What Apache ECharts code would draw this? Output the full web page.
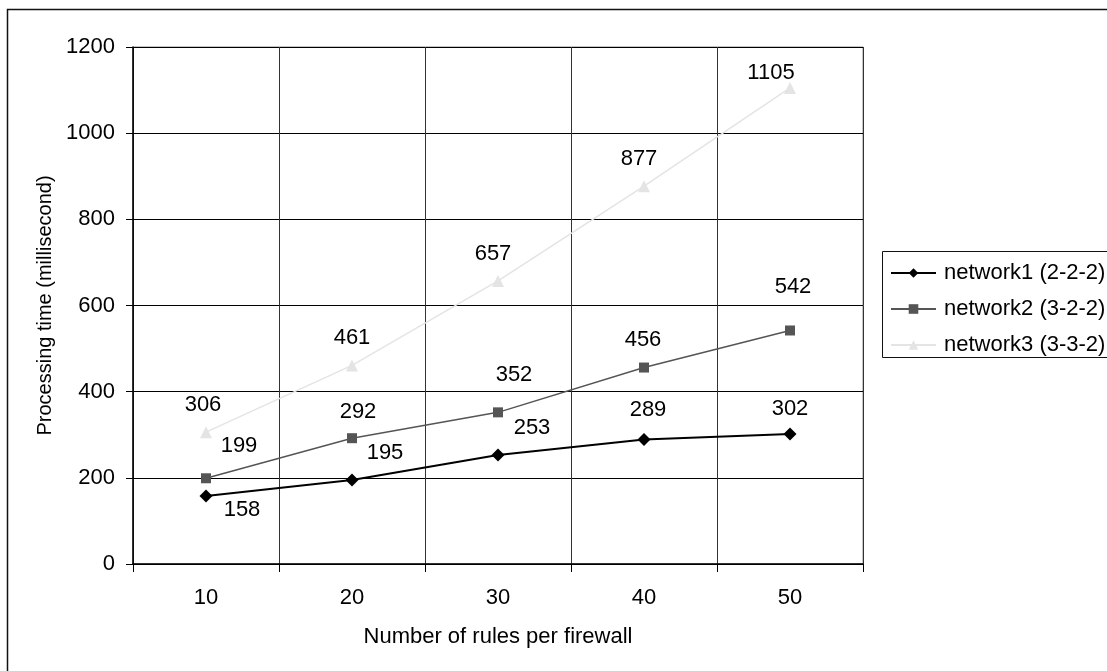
<!DOCTYPE html>
<html>
<head>
<meta charset="utf-8">
<script src="https://cdn.jsdelivr.net/npm/echarts@6/dist/echarts.min.js"></script>
<style>
  html, body { margin: 0; padding: 0; background: #fff; }
  #chart { width: 1107px; height: 671px; }
</style>
</head>
<body>
<div id="chart"></div>
<script>
// Rules per firewall (x categories)
const categories = ['10', '20', '30', '40', '50'];

// Processing time in milliseconds for each network topology
const network1 = [158, 195, 253, 289, 302];
const network2 = [199, 292, 352, 456, 542];
const network3 = [306, 461, 657, 877, 1105];

const seriesNames = ['network1 (2-2-2)', 'network2 (3-2-2)', 'network3 (3-3-2)'];

// Where each value label sits relative to its point (dx, dy in px)
const labelOffsets1 = [[36, 14], [33, -27], [34, -27], [4, -30], [0, -25]];
const labelOffsets2 = [[33, -32], [6, -26], [16, -37], [-1, -28], [3, -44]];
const labelOffsets3 = [[-3, -27], [0, -27], [-5, -27], [-5, -27], [-19, -15]];

const FONT = '"Liberation Sans", Arial, Helvetica, sans-serif';

function withLabels(values, offsets) {
  return values.map((v, i) => ({
    value: v,
    label: { offset: offsets[i] }
  }));
}

function lineSeries(name, values, offsets, color, symbol, size, width) {
  return {
    name: name,
    type: 'line',
    data: withLabels(values, offsets),
    symbol: symbol,
    symbolSize: size,
    showAllSymbol: true,
    lineStyle: { color: color, width: width },
    itemStyle: { color: color },
    label: {
      show: true,
      position: 'inside',
      align: 'center',
      verticalAlign: 'middle',
      color: '#000',
      fontSize: 22,
      fontFamily: FONT
    },
    emphasis: { disabled: true },
    animation: false,
    z: 3
  };
}

const chart = echarts.init(document.getElementById('chart'), null, { renderer: 'canvas' });

chart.setOption({
  backgroundColor: '#fff',
  animation: false,
  graphic: [
    // outer frame (top and left edges)
    { type: 'rect', shape: { x: 7.5, y: 9.5, width: 1200, height: 800 },
      style: { fill: null, stroke: '#111', lineWidth: 1.5 }, silent: true, z: 0 },
    // legend frame
    { type: 'rect', shape: { x: 882.5, y: 251.5, width: 300, height: 106 },
      style: { fill: '#fff', stroke: '#111', lineWidth: 1 }, silent: true, z: 1 }
  ],
  grid: {
    left: 133, top: 47, right: 244, bottom: 107,
    show: true, borderColor: '#8a8a8a', borderWidth: 1, backgroundColor: 'transparent'
  },
  legend: {
    orient: 'vertical',
    left: 890,
    top: 262,
    itemWidth: 45,
    itemHeight: 12,
    itemGap: 14,
    padding: 0,
    textStyle: { fontSize: 22, fontFamily: FONT, color: '#000', padding: [0, 0, 0, 3] },
    data: seriesNames,
    z: 5
  },
  xAxis: {
    type: 'category',
    data: categories,
    boundaryGap: true,
    name: 'Number of rules per firewall',
    nameLocation: 'middle',
    nameGap: 62,
    nameTextStyle: { fontSize: 22, fontFamily: FONT, color: '#000' },
    axisLine: { lineStyle: { color: '#000', width: 1.5 } },
    axisTick: { show: true, inside: false, length: 8, alignWithLabel: false, interval: 0,
      lineStyle: { color: '#000' } },
    axisLabel: { fontSize: 22, fontFamily: FONT, color: '#000', margin: 23, interval: 0 },
    splitLine: { show: true, interval: 0, lineStyle: { color: '#333', width: 1 } }
  },
  yAxis: {
    type: 'value',
    min: 0,
    max: 1200,
    interval: 200,
    name: 'Processing time (millisecond)',
    nameLocation: 'middle',
    nameGap: 78,
    nameRotate: 90,
    nameTextStyle: { fontSize: 20, fontFamily: FONT, color: '#000' },
    axisLine: { show: true, lineStyle: { color: '#000', width: 1.5 } },
    axisTick: { show: true, inside: false, length: 7, lineStyle: { color: '#000' } },
    axisLabel: { fontSize: 22, fontFamily: FONT, color: '#000', margin: 18,
      formatter: (v) => String(v) },
    splitLine: { show: true, lineStyle: { color: '#000', width: 1 } }
  },
  series: [
    lineSeries(seriesNames[0], network1, labelOffsets1, '#000000', 'diamond', 13, 2),
    lineSeries(seriesNames[1], network2, labelOffsets2, '#555555', 'rect', 10, 1.5),
    lineSeries(seriesNames[2], network3, labelOffsets3, '#e4e4e4', 'triangle', 12, 1.5)
  ]
});
</script>
</body>
</html>
